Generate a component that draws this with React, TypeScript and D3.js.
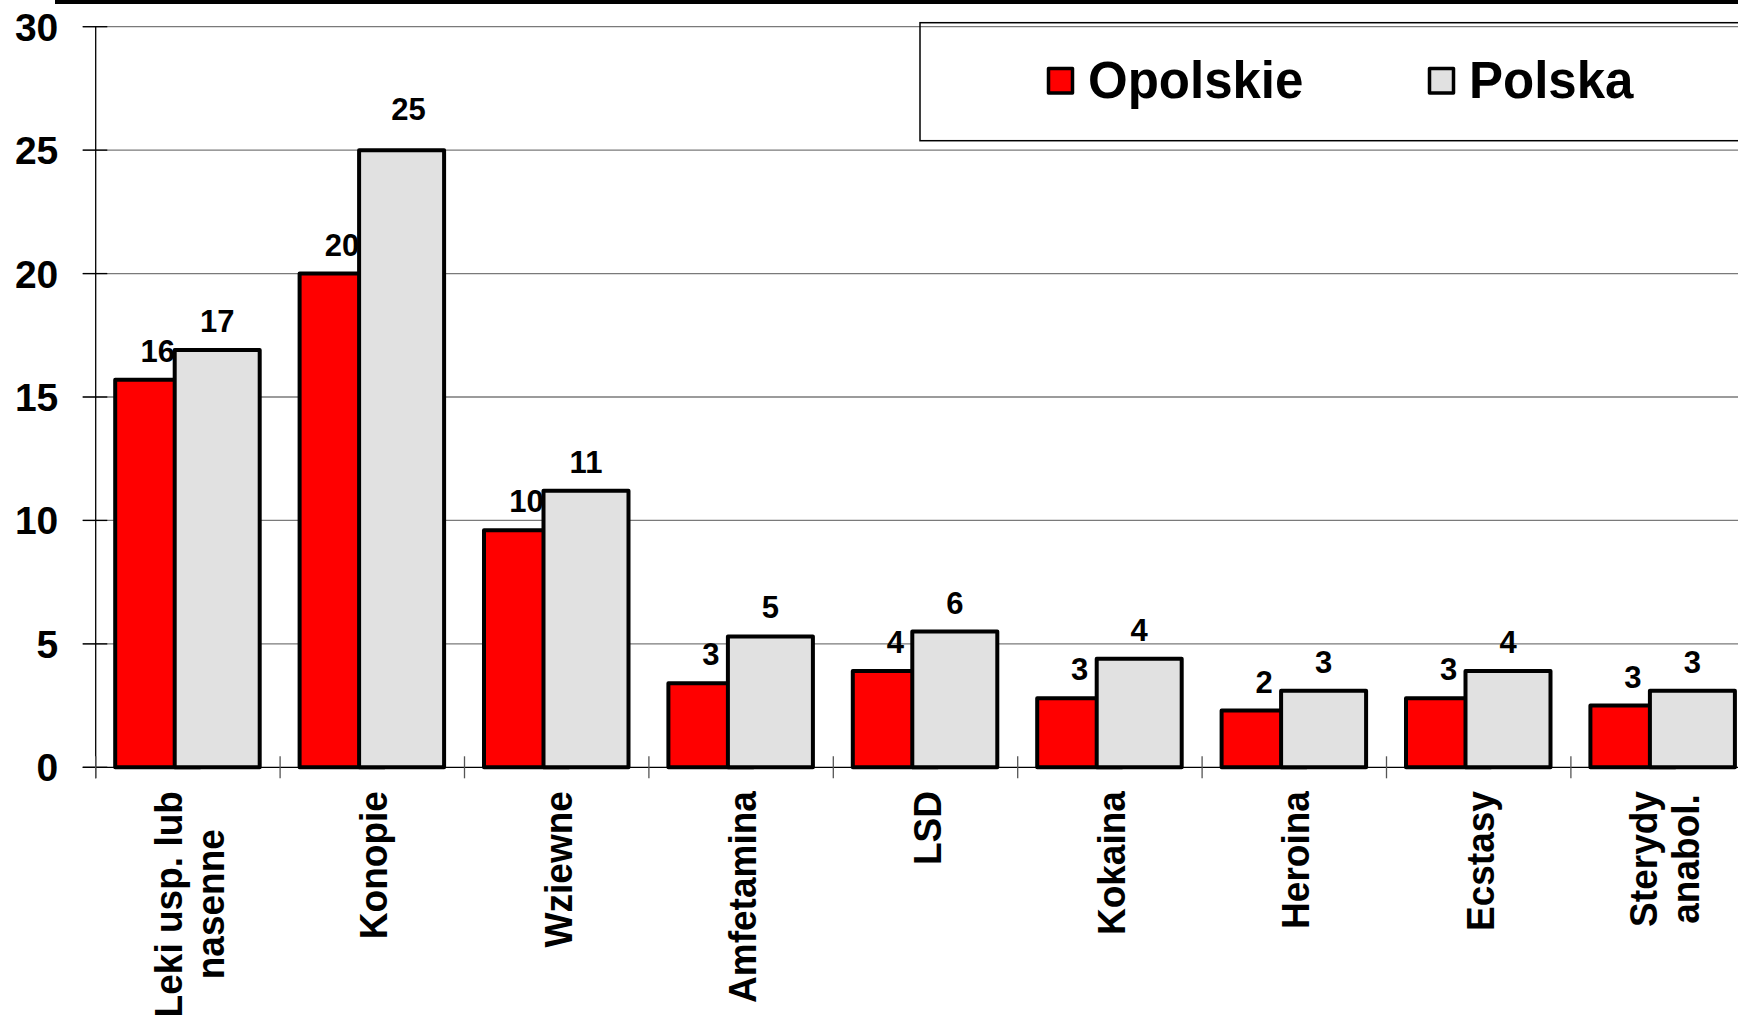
import React from "react";
import * as d3 from "d3";

const categories = [
  "Leki usp. lub\nnasenne",
  "Konopie",
  "Wziewne",
  "Amfetamina",
  "LSD",
  "Kokaina",
  "Heroina",
  "Ecstasy",
  "Sterydy\nanabol.",
];
const opolskie = [15.7, 20.0, 9.6, 3.4, 3.9, 2.8, 2.3, 2.8, 2.5];
const polska = [16.9, 25.0, 11.2, 5.3, 5.5, 4.4, 3.1, 3.9, 3.1];
const yTicks = [0, 5, 10, 15, 20, 25, 30];
const seriesNames = ["Opolskie", "Polska"];
const seriesColors = ["#FF0000", "#E1E1E1"];

const W = 1738;
const H = 1018;
const FONT = "'Liberation Sans', Arial, Helvetica, sans-serif";

const XL_FONT = 39;
const XL_SX = 0.95;

// layout tweak: manually moved data label (series index, category index) -> [dx, dy]
const labelNudge: Record<string, [number, number]> = { "1-1": [7, -12] };

function measure(text: string, size: number): number {
  if (typeof document === "undefined") return text.length * size * 0.55;
  const c = document.createElement("canvas");
  const ctx = c.getContext("2d");
  if (!ctx) return text.length * size * 0.55;
  ctx.font = `bold ${size}px 'Liberation Sans', Arial, sans-serif`;
  return ctx.measureText(text).width;
}

export default function App() {
  const plotLeft = 95.7;
  const band = 184.4;
  const x = d3
    .scaleBand<string>()
    .domain(categories)
    .range([plotLeft, plotLeft + band * categories.length])
    .padding(0);
  const y = d3.scaleLinear().domain([0, 30]).range([767.3, 26.7]);

  const barW = 85;
  const offs = [19.5, 79];
  const series = [opolskie, polska];
  const gridLeft = 82.7;
  const tickRight = 107.3;

  return (
    <div style={{ position: "absolute", left: 0, top: 0, width: W, height: H, background: "#fff" }}>
      <svg width={W} height={H} style={{ display: "block" }} fontFamily={FONT}>
        <rect x={0} y={0} width={W} height={H} fill="#fff" />
        {/* top black bar */}
        <rect x={55} y={0} width={W - 55} height={4} fill="#000" />

        {/* gridlines */}
        {yTicks.map((t) => (
          <g key={"g" + t}>
            {t !== 0 && (
              <line x1={gridLeft} x2={W} y1={y(t)} y2={y(t)} stroke="#7a7a7a" strokeWidth={1.3} />
            )}
            <line x1={gridLeft} x2={tickRight} y1={y(t)} y2={y(t)} stroke="#000" strokeWidth={1.3} />
            <text
              x={58.3}
              y={y(t) + 14}
              textAnchor="end"
              fontSize={39}
              fontWeight="bold"
              fill="#000"
            >
              {t}
            </text>
          </g>
        ))}

        {/* legend box */}
        <rect x={920} y={22.7} width={1000} height={118} fill="none" stroke="#000" strokeWidth={1.5} />
        {seriesNames.map((n, i) => {
          const sx = [1048.5, 1429.5][i];
          return (
            <g key={n}>
              <rect x={sx} y={68.5} width={24} height={24.5} fill={seriesColors[i]} stroke="#000" strokeWidth={3.5} strokeLinejoin="round" />
              <text x={sx + 39.5} y={98.3} fontSize={51} fontWeight="bold" fill="#000">
                {n}
              </text>
            </g>
          );
        })}

        {/* bars and labels */}
        {series.map((vals, si) => (
          <g key={"s" + si}>
            {categories.map((c, ci) => {
              const bx = (x(c) as number) + offs[si];
              const v = vals[ci];
              const nudge = labelNudge[`${si}-${ci}`] || [0, 0];
              return (
                <g key={c}>
                  <rect
                    x={bx}
                    y={y(v)}
                    width={barW}
                    height={y(0) - y(v)}
                    fill={seriesColors[si]}
                    stroke="#000"
                    strokeWidth={4}
                    strokeLinejoin="round"
                  />
                  <text
                    x={bx + barW / 2 + nudge[0]}
                    y={y(v) - 18 + nudge[1]}
                    textAnchor="middle"
                    fontSize={31}
                    fontWeight="bold"
                    fill="#000"
                  >
                    {Math.round(v)}
                  </text>
                </g>
              );
            })}
          </g>
        ))}

        {/* axes */}
        <line x1={plotLeft} x2={plotLeft} y1={y(30)} y2={778.3} stroke="#000" strokeWidth={1.3} />
        <line x1={gridLeft} x2={W} y1={y(0)} y2={y(0)} stroke="#000" strokeWidth={1.3} />
        {categories.map((c, i) => (
          <line
            key={"t" + i}
            x1={x(c) as number}
            x2={x(c) as number}
            y1={756.3}
            y2={778.3}
            stroke="#555"
            strokeWidth={1.3}
          />
        ))}

        {/* category labels */}
        {categories.map((c) => {
          const lines = c.split("\n");
          const cx = (x(c) as number) + x.bandwidth() / 2;
          const maxW = Math.max(...lines.map((l) => measure(l, XL_FONT))) * XL_SX;
          const lh = 42;
          const top = 791;
          return (
            <g key={"l" + c} transform={`translate(${cx},${top}) rotate(-90)`}>
              {lines.map((l, li) => (
                <text
                  key={li}
                  transform={`translate(${-maxW / 2},${15 + (li - (lines.length - 1) / 2) * lh}) scale(${XL_SX},1)`}
                  textAnchor="middle"
                  fontSize={XL_FONT}
                  fontWeight="bold"
                  fill="#000"
                >
                  {l}
                </text>
              ))}
            </g>
          );
        })}
      </svg>
    </div>
  );
}
